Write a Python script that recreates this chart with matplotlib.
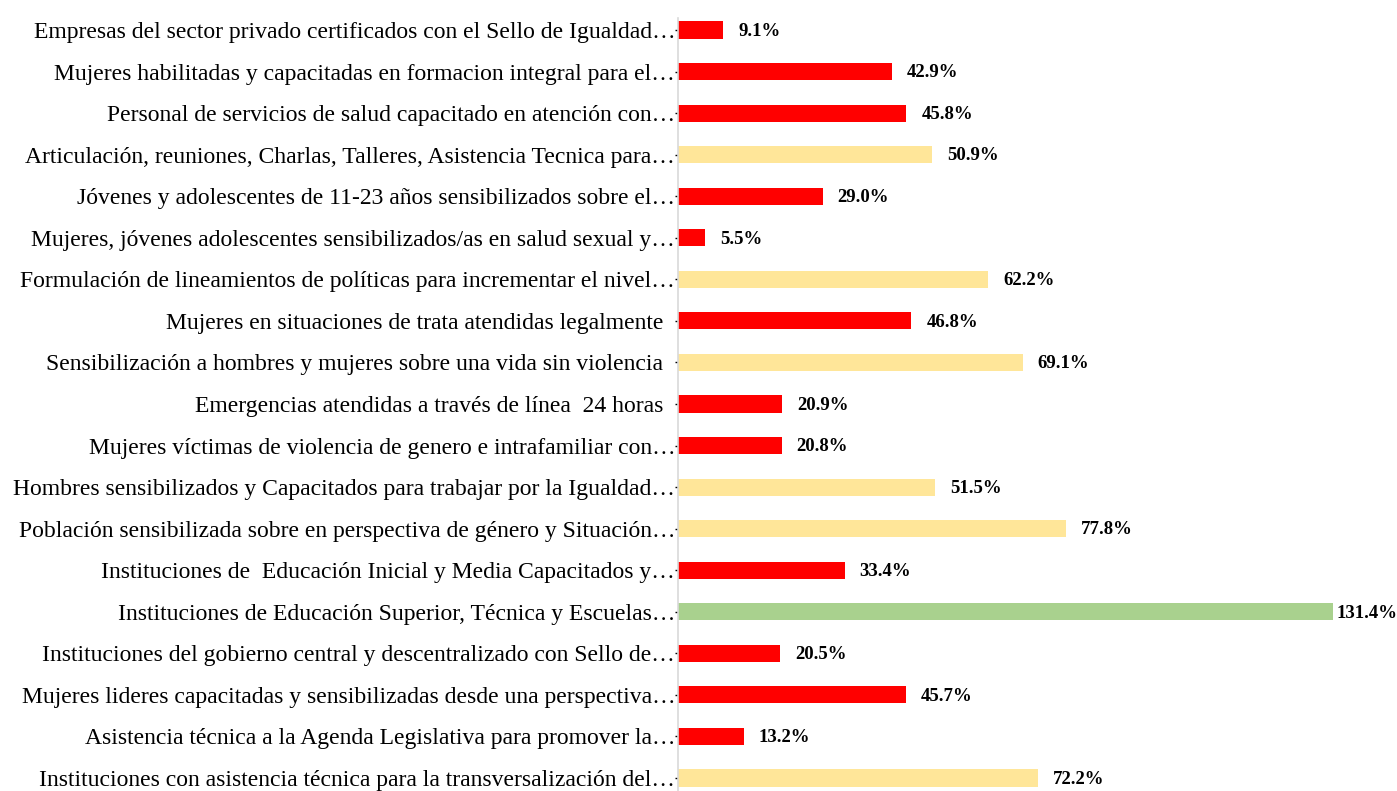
import matplotlib
matplotlib.use("Agg")
import matplotlib.pyplot as plt

categories = [
    "Empresas del sector privado certificados con el Sello de Igualdad…",
    "Mujeres habilitadas y capacitadas en formacion integral para el…",
    "Personal de servicios de salud capacitado en atención con…",
    "Articulación, reuniones, Charlas, Talleres, Asistencia Tecnica para…",
    "Jóvenes y adolescentes de 11-23 años sensibilizados sobre el…",
    "Mujeres, jóvenes adolescentes sensibilizados/as en salud sexual y…",
    "Formulación de lineamientos de políticas para incrementar el nivel…",
    "Mujeres en situaciones de trata atendidas legalmente  ",
    "Sensibilización a hombres y mujeres sobre una vida sin violencia  ",
    "Emergencias atendidas a través de línea  24 horas  ",
    "Mujeres víctimas de violencia de genero e intrafamiliar con…",
    "Hombres sensibilizados y Capacitados para trabajar por la Igualdad…",
    "Población sensibilizada sobre en perspectiva de género y Situación…",
    "Instituciones de  Educación Inicial y Media Capacitados y…",
    "Instituciones de Educación Superior, Técnica y Escuelas…",
    "Instituciones del gobierno central y descentralizado con Sello de…",
    "Mujeres lideres capacitadas y sensibilizadas desde una perspectiva…",
    "Asistencia técnica a la Agenda Legislativa para promover la…",
    "Instituciones con asistencia técnica para la transversalización del…",
]
values = [9.1, 42.9, 45.8, 50.9, 29.0, 5.5, 62.2, 46.8, 69.1, 20.9,
          20.8, 51.5, 77.8, 33.4, 131.4, 20.5, 45.7, 13.2, 72.2]

def color_for(v):
    if v > 100:
        return "#A9D18E"
    if v >= 50:
        return "#FFE699"
    return "#FF0000"

colors = [color_for(v) for v in values]

plt.rcParams['font.family'] = ['Liberation Serif', 'DejaVu Serif']

W, H = 1397, 791
fig = plt.figure(figsize=(W / 100, H / 100), dpi=100)
left_px, right_px = 678, 1376
top_px, bot_px = 18, 791
ax = fig.add_axes([left_px / W, 1 - bot_px / H, (right_px - left_px) / W, (bot_px - top_px) / H])

n = len(categories)
ypos = list(range(n))
ax.barh(ypos, values, height=0.41, color=colors, zorder=2)

xmax = 140
ax.set_xlim(0, xmax)
spacing = 41.56
ax.set_ylim(18 + 13 / spacing, -12 / spacing)

ax.set_yticks(ypos)
ax.set_yticklabels(categories, fontsize=17)
ax.tick_params(axis='y', length=2, width=1, color='black', pad=0)
ax.set_xticks([])
for s in ['top', 'right', 'bottom']:
    ax.spines[s].set_visible(False)
ax.spines['left'].set_color('#D9D9D9')
ax.spines['left'].set_linewidth(1.2)

px_per_unit = (right_px - left_px) / xmax
for y, v in zip(ypos, values):
    off = 15 / px_per_unit
    x = v + off
    if left_px + x * px_per_unit + 60 > W:
        x = v + 3 / px_per_unit
    ax.text(x, y + 0.03, f"{v:.1f}%", va='center', ha='left', fontsize=13.5,
            fontweight='bold', color='black')

fig.savefig("out.png", dpi=100)
